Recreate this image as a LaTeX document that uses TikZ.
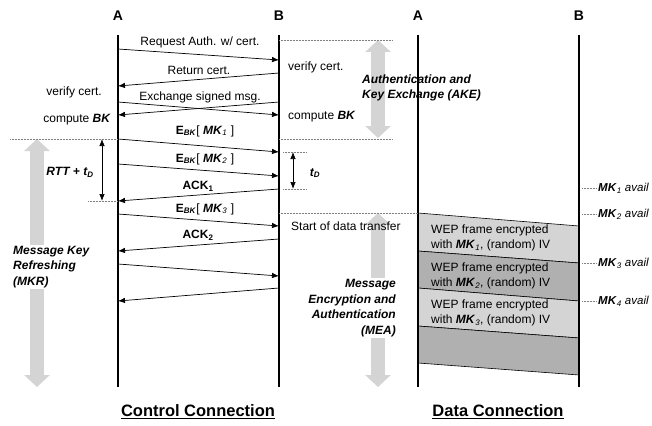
\documentclass[tikz,border=0pt]{standalone}
\usepackage{fontspec}
\setmainfont{Liberation Sans}
\usetikzlibrary{arrows.meta}
\newcommand{\bi}[1]{\textbf{\textit{#1}}}
\newcommand{\mk}[1]{\bi{MK}\textsubscript{\textit{#1}}}
\newcommand{\ebk}[1]{\textbf{E}\textsubscript{\bi{BK}}[ \mk{#1} ]}
\begin{document}
\begin{tikzpicture}[x=1pt,y=-1pt,
  life/.style={line width=1.6pt},
  msg/.style={line width=0.7pt,-{Latex[length=7pt,width=5.5pt]}},
  dbl/.style={line width=0.7pt,{Latex[length=7pt,width=5.5pt]}-{Latex[length=7pt,width=5.5pt]}},
  dots/.style={gray,densely dotted,line width=0.5pt},
  bigarrow/.style={line width=14pt,draw=black!17,{Triangle[length=12pt,width=25pt]}-{Triangle[length=12pt,width=25pt]}},
  lbl/.style={font=\fontsize{12}{14}\selectfont,inner sep=1pt},
  head/.style={font=\fontsize{14}{16}\selectfont\bfseries,inner sep=0pt},
  title/.style={font=\fontsize{16.5}{18}\selectfont\bfseries,inner sep=0pt},
  phase/.style={font=\fontsize{12}{15.5}\selectfont\bfseries\itshape,inner sep=1pt},
  frametext/.style={font=\fontsize{12}{15}\selectfont,align=left,anchor=west,inner sep=0pt},
  light/.style={fill=black!17,draw=black,line width=0.6pt},
  dark/.style={fill=black!31,draw=black,line width=0.6pt}
]
\useasboundingbox (0,0) rectangle (652,425);

% big gray phase arrows
\coordinate (akeT) at (378,40); \coordinate (akeB) at (378,138);
\draw[bigarrow] (akeT) -- (akeB);
\coordinate (mkrT) at (37,139); \coordinate (mkrB) at (37,387);
\draw[bigarrow] (mkrT) -- (mkrB);
\coordinate (meaT) at (378,213); \coordinate (meaB) at (378,387);
\draw[bigarrow] (meaT) -- (meaB);

% data frames
\draw[light] (418,213) -- (579,226) -- (579,263) -- (418,251) -- cycle;
\draw[dark]  (418,251) -- (579,263) -- (579,301) -- (418,288) -- cycle;
\draw[light] (418,288) -- (579,301) -- (579,338) -- (418,326) -- cycle;
\draw[dark]  (418,326) -- (579,338) -- (579,375) -- (418,363) -- cycle;
\node[frametext] (f1) at (431,238) {WEP frame encrypted\\with \mk{1}, (random) IV};
\node[frametext] (f2) at (431,276) {WEP frame encrypted\\with \mk{2}, (random) IV};
\node[frametext] (f3) at (431,313) {WEP frame encrypted\\with \mk{3}, (random) IV};

% headers
\node[head] (hA1) at (118,16) {A};
\node[head] (hB1) at (279,16) {B};
\node[head] (hA2) at (418,16) {A};
\node[head] (hB2) at (579,16) {B};

% lifelines
\coordinate (cAt) at (118,35); \coordinate (cAb) at (118,387);
\coordinate (cBt) at (279,35); \coordinate (cBb) at (279,387);
\coordinate (dAt) at (418,35); \coordinate (dAb) at (418,387);
\coordinate (dBt) at (579,35); \coordinate (dBb) at (579,387);
\draw[life] (cAt) -- (cAb);
\draw[life] (cBt) -- (cBb);
\draw[life] (dAt) -- (dAb);
\draw[life] (dBt) -- (dBb);

% dotted guide lines
\draw[dots] (279,40) -- (393,40);
\draw[dots] (10,139) -- (118,139);
\draw[dots] (279,139) -- (393,139);
\draw[dots] (283,152) -- (307,152);
\draw[dots] (283,189) -- (307,189);
\draw[dots] (88,201) -- (118,201);
\draw[dots] (279,213) -- (418,213);

% messages
\foreach \n/\xa/\ya/\xb/\yb in {
  m1/118/49/279/60, m2/279/73/118/86, m3a/118/102/279/115, m3b/279/102/118/115,
  m4/118/139/279/152, m5/118/164/279/176, m6/279/189/118/201, m7/118/214/279/226,
  m8/279/239/118/251, m9/118/264/279/276, m10/279/288/118/301}{
  \coordinate (\n s) at (\xa,\ya); \coordinate (\n e) at (\xb,\yb);
  \draw[msg] (\n s) -- (\n e);
}

% message labels
\node[lbl] (l1) at (200,42) {Request Auth. w/ cert.};
\node[lbl] (l2) at (199,70) {Return cert.};
\node[lbl] (l3) at (200,97) {Exchange signed msg.};
\node[lbl] (l4) at (205,131) {\ebk{1}};
\node[lbl] (l5) at (205,159) {\ebk{2}};
\node[lbl] (l6) at (198,186) {\textbf{ACK\textsubscript{1}}};
\node[lbl] (l7) at (205,209) {\ebk{3}};
\node[lbl] (l8) at (198,235) {\textbf{ACK\textsubscript{2}}};

% side notes
\node[lbl,anchor=east] (va) at (103,92) {verify cert.};
\node[lbl,anchor=east] (ca) at (112,120) {compute \bi{BK}};
\node[lbl,anchor=west] (vb) at (287,67) {verify cert.};
\node[lbl,anchor=west] (cb) at (287,117) {compute \bi{BK}};
\node[lbl,anchor=west] (sd) at (290,226) {Start of data transfer};

% timing arrows
\coordinate (rttT) at (102,139); \coordinate (rttB) at (102,201);
\draw[dbl] (rttT) -- (rttB);
\node[lbl] (rtt) at (70,172) {\bi{RTT + t\textsubscript{D}}};
\coordinate (tdT) at (293,152); \coordinate (tdB) at (293,189);
\draw[dbl] (tdT) -- (tdB);
\node[lbl] (td) at (315,173) {\bi{t\textsubscript{D}}};

% phase labels
\node[phase,align=left,anchor=west] (ake) at (361,88) {Authentication and\\Key Exchange (AKE)};
\node[phase,align=left,anchor=west,fill=white] (mkr) at (12,267) {Message Key\\Refreshing\\(MKR)};
\node[phase,align=right,anchor=east,fill=white] (mea) at (397,308) {Message\\Encryption and\\Authentication\\(MEA)};

% key availability
\foreach \k/\y in {1/188, 2/214, 3/263, 4/301}{
  \draw[dots] (582,\y) -- (597,\y);
  \node[lbl,anchor=west,font=\fontsize{11.5}{13}\selectfont] (av\k) at (597,\y) {\mk{\k} \textit{avail}};
}

% titles
\node[title] (tc) at (198,412) {\underline{Control Connection}};
\node[title] (td2) at (498,412) {\underline{Data Connection}};
\end{tikzpicture}
\end{document}
